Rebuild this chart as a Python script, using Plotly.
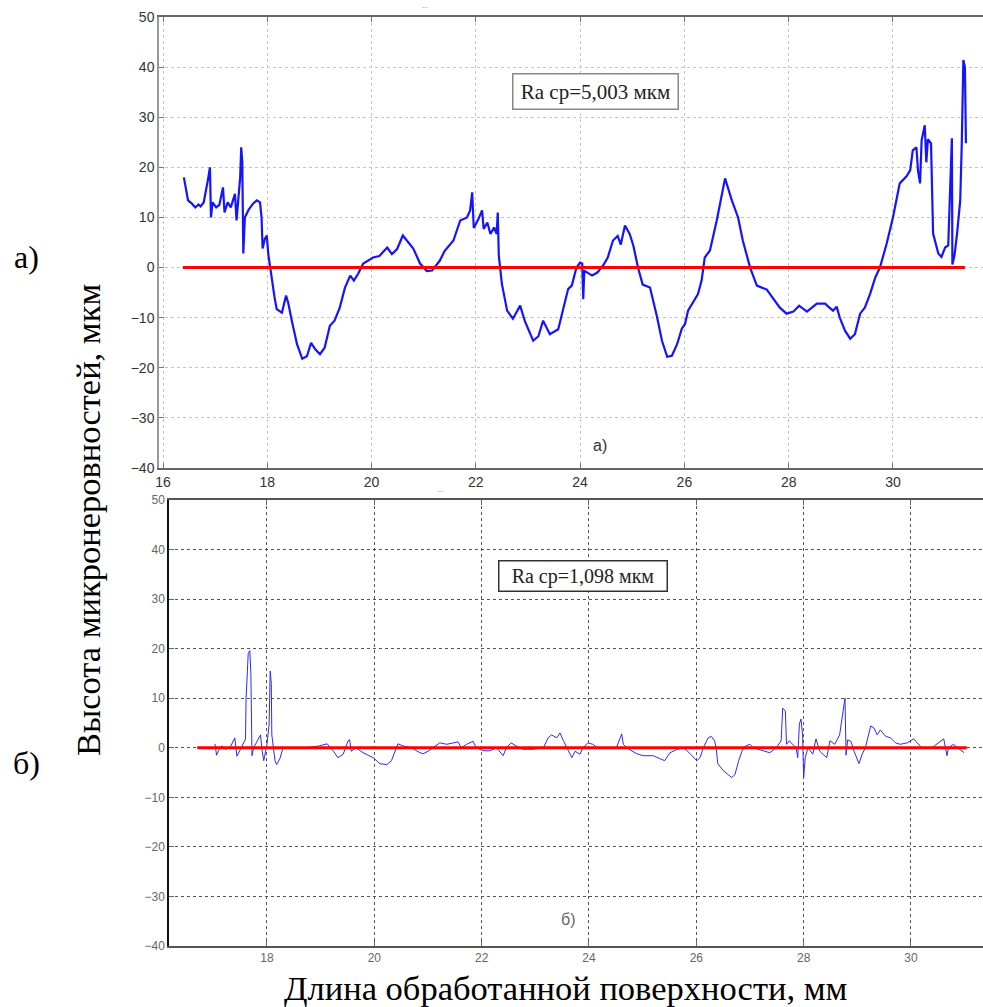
import plotly.graph_objects as go

W, H = 983, 1007

# ---------------- data ----------------
top_x = [16.40, 16.45, 16.48, 16.55, 16.62, 16.68, 16.72, 16.78, 16.83, 16.86, 16.90, 16.92, 16.95, 17.02, 17.08,
         17.15, 17.18, 17.24, 17.30, 17.38, 17.41, 17.45, 17.48, 17.50, 17.52, 17.54, 17.57, 17.64, 17.73, 17.80,
         17.86, 17.89, 17.91, 17.95, 17.99, 18.02, 18.06, 18.10, 18.14, 18.18, 18.28, 18.36, 18.40, 18.47, 18.57,
         18.67, 18.76, 18.84, 18.92, 19.01, 19.10, 19.20, 19.29, 19.39, 19.49, 19.59, 19.66, 19.74, 19.84, 20.03,
         20.15, 20.30, 20.39, 20.49, 20.60, 20.80, 20.93, 21.06, 21.16, 21.31, 21.40, 21.57, 21.70, 21.83, 21.89,
         21.93, 21.96, 22.05, 22.12, 22.15, 22.22, 22.28, 22.35, 22.40, 22.42, 22.44, 22.46, 22.50, 22.60, 22.71,
         22.85, 22.94, 23.10, 23.20, 23.29, 23.42, 23.58, 23.77, 23.84, 23.93, 24.00, 24.04, 24.06, 24.08, 24.23,
         24.33, 24.44, 24.53, 24.63, 24.72, 24.78, 24.86, 24.95, 25.02, 25.11, 25.20, 25.34, 25.40, 25.47, 25.57,
         25.67, 25.76, 25.86, 25.95, 26.01, 26.07, 26.16, 26.26, 26.33, 26.39, 26.49, 26.62, 26.78, 26.91, 27.03,
         27.12, 27.26, 27.39, 27.58, 27.64, 27.83, 27.96, 28.09, 28.20, 28.35, 28.54, 28.70, 28.76, 28.85, 28.92,
         28.98, 29.08, 29.18, 29.27, 29.37, 29.46, 29.56, 29.66, 29.75, 29.88, 30.00, 30.13, 30.26, 30.33, 30.38,
         30.45, 30.48, 30.52, 30.55, 30.61, 30.64, 30.67, 30.73, 30.77, 30.87, 30.93, 31.00, 31.06, 31.09, 31.13,
         31.14, 31.18, 31.23, 31.29, 31.32, 31.35, 31.38, 31.40]
top_y = [18.0, 15.5, 13.4, 12.8, 12.0, 12.6, 12.2, 13.0, 15.5, 17.4, 20.0, 10.0, 13.0, 12.0, 12.5,
         16.0, 11.0, 13.0, 12.0, 14.7, 9.4, 14.0, 18.0, 24.0, 21.0, 2.8, 10.0, 11.5, 12.8, 13.4,
         13.0, 10.0, 3.8, 5.6, 6.4, 2.6, -0.2, -4.0, -6.0, -8.3, -9.0, -5.6, -7.0, -10.6, -15.3,
         -18.2, -17.7, -15.0, -16.3, -17.3, -16.0, -11.6, -10.6, -8.0, -4.0, -1.6, -2.6, -1.3, 0.8, 2.0,
         2.3, 4.0, 2.7, 3.7, 6.4, 3.8, 0.8, -0.7, -0.6, 1.4, 3.3, 5.4, 9.4, 10.0, 11.4,
         15.0, 7.9, 9.7, 11.4, 7.7, 9.0, 6.7, 8.0, 6.7, 11.0, 2.4, 0.0, -3.3, -8.6, -10.2,
         -7.6, -10.7, -14.6, -13.7, -10.6, -13.3, -12.3, -4.3, -3.6, 0.0, 1.0, 0.8, -6.3, -0.6, -1.6,
         -1.0, 0.4, 2.0, 5.4, 6.3, 4.6, 8.4, 6.7, 4.4, 0.0, -3.4, -4.0, -6.6, -9.6, -14.6,
         -17.8, -17.6, -15.3, -12.2, -11.3, -8.6, -7.0, -5.3, -2.6, 2.0, 3.4, 9.4, 17.8, 13.4, 10.0,
         5.4, 0.0, -3.6, -4.4, -5.3, -8.0, -9.2, -8.8, -7.6, -8.8, -7.2, -7.2, -7.8, -8.6, -7.8,
         -10.0, -12.6, -14.2, -13.3, -9.2, -8.0, -5.3, -2.0, 0.0, 4.8, 10.0, 16.8, 18.2, 19.4, 23.4,
         24.0, 19.4, 16.8, 25.4, 28.4, 21.0, 25.6, 24.8, 6.8, 2.8, 2.1, 4.0, 4.4, 13.4, 25.8,
         0.6, 2.4, 6.8, 13.4, 24.8, 41.4, 40.0, 24.8]

bot_x = [17.03, 17.06, 17.10, 17.16, 17.22, 17.31, 17.40, 17.44, 17.52, 17.60, 17.61, 17.65, 17.68, 17.70, 17.72,
         17.75, 17.82, 17.88, 17.91, 17.94, 18.00, 18.04, 18.06, 18.08, 18.09, 18.15, 18.18, 18.24, 18.30, 18.49,
         18.74, 18.86, 18.98, 19.12, 19.24, 19.32, 19.42, 19.51, 19.54, 19.57, 19.66, 19.79, 19.98, 20.10, 20.23,
         20.32, 20.38, 20.44, 20.53, 20.69, 20.85, 20.91, 21.00, 21.10, 21.22, 21.35, 21.47, 21.56, 21.62, 21.72,
         21.84, 21.90, 22.03, 22.15, 22.28, 22.40, 22.46, 22.55, 22.65, 22.77, 22.96, 23.15, 23.24, 23.30, 23.40,
         23.46, 23.52, 23.59, 23.68, 23.74, 23.83, 23.89, 23.98, 24.07, 24.16, 24.32, 24.51, 24.61, 24.64, 24.70,
         24.89, 25.01, 25.20, 25.32, 25.41, 25.51, 25.63, 25.75, 25.81, 25.92, 26.01, 26.07, 26.13, 26.22, 26.28,
         26.34, 26.37, 26.40, 26.50, 26.66, 26.72, 26.79, 26.85, 26.91, 27.00, 27.06, 27.24, 27.37, 27.49, 27.58,
         27.61, 27.66, 27.68, 27.73, 27.86, 27.89, 27.92, 27.95, 27.98, 28.00, 28.03, 28.08, 28.17, 28.23, 28.30,
         28.43, 28.49, 28.58, 28.67, 28.73, 28.77, 28.79, 28.82, 28.88, 28.94, 29.03, 29.09, 29.15, 29.25, 29.31,
         29.37, 29.43, 29.53, 29.62, 29.71, 29.80, 29.93, 30.05, 30.14, 30.20, 30.39, 30.61, 30.67, 30.70, 30.79,
         30.88, 30.99]
bot_y = [0.8, -1.5, -0.5, 0.4, -0.3, 0.0, 2.0, -1.7, 0.0, 1.8, 9.8, 19.0, 19.6, 15.0, -1.6,
         0.0, 1.4, 2.6, -0.7, -2.6, 0.7, 4.8, 15.5, 13.0, 2.6, -2.6, -3.4, -2.2, 0.0, 0.0,
         0.0, 0.2, 0.4, 0.8, -0.7, -2.0, -1.3, 1.4, 1.6, -0.7, 0.0, -1.0, -2.0, -3.2, -3.4,
         -2.6, -0.7, 0.8, 0.4, 0.0, -1.0, -1.2, -0.7, 0.0, 1.0, 0.7, 1.0, 1.2, 0.0, 0.7,
         1.3, 0.0, -0.6, -0.6, 0.0, -1.6, 0.0, 1.0, 0.3, -0.3, -0.3, 0.0, 2.0, 2.6, 2.0,
         3.0, 1.5, 0.0, -2.0, -0.7, -1.3, 0.0, 1.0, 0.7, 0.0, 0.0, 0.0, 2.8, 0.7, 0.0,
         -1.2, -1.6, -1.6, -2.2, -2.6, -1.0, -0.4, 0.0, -0.4, -1.6, -2.6, -2.0, 0.0, 2.0, 2.3,
         1.4, 0.0, -3.2, -4.6, -6.0, -5.4, -2.6, -0.7, 0.3, 0.7, 0.0, -0.6, -1.0, 0.0, 1.4,
         8.0, 7.4, 0.7, 1.4, 0.0, -2.0, 4.8, 5.8, 2.6, -6.0, -2.0, 0.0, -1.3, 1.8, -0.7,
         -2.0, 1.4, 0.7, 2.6, 6.8, 10.0, -1.5, 1.6, 1.3, -0.7, -3.2, -1.3, 0.0, 4.4, 4.0,
         2.6, 3.6, 2.3, 2.0, 1.0, 0.7, 1.0, 1.8, 0.7, 0.0, 0.0, 1.8, -1.6, 0.0, 0.7,
         0.0, -1.0]

top_zero_x = [16.38, 31.38]
bot_zero_x = [16.70, 31.04]
zero_y = [0, 0]

x_ticks_top = [16, 18, 20, 22, 24, 26, 28, 30]
x_ticks_bot = [18, 20, 22, 24, 26, 28, 30]
y_ticks = [-40, -30, -20, -10, 0, 10, 20, 30, 40, 50]

ra_top = "Ra ср=5,003 мкм"
ra_bot = "Ra ср=1,098 мкм"
y_title = "Высота микронеровностей, мкм"
x_title = "Длина обработанной поверхности, мм"


def px(x):
    return x / W


def py(y):
    return 1 - y / H


fig = go.Figure()
fig.add_trace(go.Scatter(x=top_x, y=top_y, mode="lines", line=dict(color="#1414ff", width=2.2),
                         xaxis="x", yaxis="y", showlegend=False))
fig.add_trace(go.Scatter(x=top_zero_x, y=zero_y, mode="lines", line=dict(color="#ff0000", width=3),
                         xaxis="x", yaxis="y", showlegend=False))
fig.add_trace(go.Scatter(x=bot_x, y=bot_y, mode="lines", line=dict(color="#2a2aff", width=1),
                         xaxis="x2", yaxis="y2", showlegend=False))
fig.add_trace(go.Scatter(x=bot_zero_x, y=zero_y, mode="lines", line=dict(color="#ff0000", width=3),
                         xaxis="x2", yaxis="y2", showlegend=False))

tick_font_top = dict(family="Liberation Sans, Arial", size=14, color="#333333")
tick_font_bot = dict(family="Liberation Sans, Arial", size=12, color="#666666")

fig.update_layout(
    width=W, height=H,
    margin=dict(l=0, r=0, t=0, b=0, autoexpand=False),
    paper_bgcolor="white", plot_bgcolor="white",
    xaxis=dict(domain=[px(159), 1.0], range=[15.923, 31.727], anchor="y", automargin=False,
               tickvals=x_ticks_top, ticks="inside", ticklen=5, tickcolor="#777",
               showline=True, linecolor="#666", linewidth=1.5, mirror="ticks",
               showgrid=True, gridcolor="#c4c4c4", griddash="dot", gridwidth=1,
               zeroline=False, tickfont=tick_font_top),
    yaxis=dict(domain=[py(468), py(17)], range=[-40, 50], anchor="x", automargin=False,
               tickvals=y_ticks, ticks="inside", ticklen=5, tickcolor="#777",
               showline=True, linecolor="#999", linewidth=1.5,
               showgrid=True, gridcolor="#c4c4c4", griddash="dot", gridwidth=1,
               zeroline=False, tickfont=tick_font_top),
    xaxis2=dict(domain=[px(169), 1.0], range=[16.174, 31.342], anchor="y2", automargin=False,
                tickvals=x_ticks_bot, ticks="inside", ticklen=5, tickcolor="#666",
                showline=True, linecolor="#555", linewidth=1.5, mirror="ticks",
                showgrid=True, gridcolor="#555555", griddash="dot", gridwidth=1,
                zeroline=False, tickfont=tick_font_bot),
    yaxis2=dict(domain=[py(946), py(500)], range=[-40, 50], anchor="x2", automargin=False,
                tickvals=y_ticks, ticks="inside", ticklen=5, tickcolor="#666",
                showline=True, linecolor="#111", linewidth=1.5,
                showgrid=True, gridcolor="#555555", griddash="dot", gridwidth=1,
                zeroline=False, tickfont=tick_font_bot),
)

serif = "Liberation Serif, Times New Roman, serif"
sans = "Liberation Sans, Arial"


def label(xp, yp, text, **kw):
    d = dict(x=px(xp), y=py(yp), xref="paper", yref="paper", text=text, showarrow=False,
             xanchor="center", yanchor="middle")
    d.update(kw)
    return d


ann = [
    label(88, 520, y_title, textangle=-90, font=dict(family=serif, size=34.5, color="#000")),
    label(566, 988, x_title, font=dict(family=serif, size=34.5, color="#000")),
    label(26, 257, "а)", font=dict(family=serif, size=32, color="#000")),
    label(26, 763, "б)", font=dict(family=serif, size=32, color="#000")),
    label(595, 91, ra_top, font=dict(family=serif, size=21, color="#222"),
          bordercolor="#888", borderwidth=1.5, bgcolor="white", width=162, height=32),
    label(583, 576, ra_bot, font=dict(family=serif, size=20, color="#222"),
          bordercolor="#333", borderwidth=1.5, bgcolor="white", width=165, height=27),
    label(600, 445, "а)", font=dict(family=sans, size=16, color="#333")),
    label(568, 919, "б)", font=dict(family=sans, size=16, color="#666")),
    label(425, 7, "--", font=dict(family=sans, size=9, color="#bbb")),
    label(441, 491, "--", font=dict(family=sans, size=9, color="#bbb")),
]
fig.update_layout(annotations=ann)

fig.write_html("out.html", config={"displayModeBar": False},
               post_script="document.body.style.margin='0';document.body.style.padding='0';")
